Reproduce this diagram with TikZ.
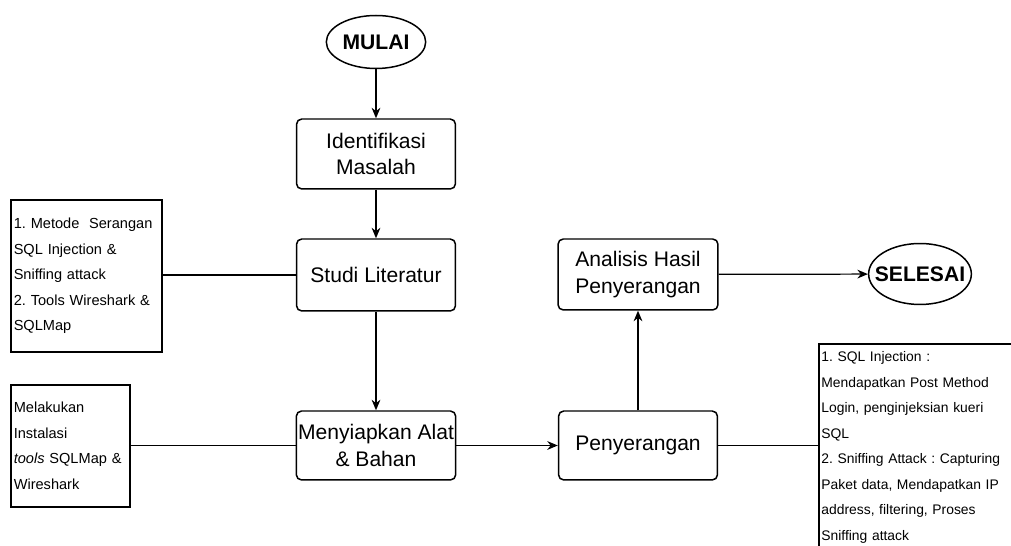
\documentclass[tikz,border=0pt]{standalone}
\usepackage{fontspec}
\setmainfont{Liberation Sans}
\usetikzlibrary{arrows.meta,shapes.geometric,positioning}
\frenchspacing

\begin{document}
\begin{tikzpicture}[x=0.02cm,y=-0.02cm,
  proses/.style={draw,line width=0.85pt,rounded corners=3pt,minimum width=3.18cm,minimum height=1.4cm,align=center,inner sep=1pt,font=\fontsize{12}{15}\selectfont},
  terminal/.style={draw,line width=0.85pt,ellipse,inner ysep=0pt,font=\fontsize{12}{15}\selectfont\bfseries},
  catatan/.style={draw,line width=0.85pt,align=left,inner xsep=1.5pt,inner ysep=0pt,font=\fontsize{7.9}{14.5}\selectfont},
  panah/.style={line width=0.7pt,-{Stealth[length=6pt,width=5pt]}},
  garis/.style={line width=0.7pt}]
\useasboundingbox (0,0) rectangle (1011,546);
\clip (0,0) rectangle (1011,546);
\node[terminal,inner xsep=1pt,minimum height=1.06cm] (mulai) at (376,42) {MULAI};
\node[proses] (ident) at (376,154) {Identifikasi\\Masalah};
\node[proses,minimum height=1.44cm] (studi) at (376,275) {Studi Literatur};
\node[proses,minimum height=1.38cm] (siap) at (376,445.5) {Menyiapkan Alat\\\& Bahan};
\node[proses,minimum height=1.38cm] (serang) at (638,445.5) {Penyerangan};
\node[proses,minimum width=3.2cm,minimum height=1.42cm] (analisis) at (638,274.5) {Analisis Hasil\\Penyerangan};
\node[terminal,inner xsep=-5pt,minimum height=1.22cm] (selesai) at (920,274) {SELESAI};
% keterangan
\node[catatan,font=\fontsize{8.3}{14.5}\selectfont,text width=2.91cm,minimum height=3.04cm] (ket1) at (86.5,276) {1. Metode~ Serangan\\SQL Injection \&\\Sniffing attack\\2. Tools Wireshark \&\\SQLMap};
\node[catatan,font=\fontsize{8.3}{14.5}\selectfont,text width=2.27cm,minimum height=2.44cm] (ket2) at (70.5,446) {Melakukan\\Instalasi\\\textit{tools} SQLMap \&\\Wireshark};
\node[catatan,text width=4.1cm,minimum height=4.14cm,anchor=west] (ket3) at (818,447.5) {1. SQL Injection :\\Mendapatkan Post Method\\Login, penginjeksian kueri\\SQL\\2. Sniffing Attack : Capturing\\Paket data, Mendapatkan IP\\address, filtering, Proses\\Sniffing attack};
% alur
\draw[panah] (mulai) -- (ident);
\draw[panah] (ident) -- (studi);
\draw[panah] (studi) -- (siap);
\draw[panah] (siap) -- (serang);
\draw[panah] (serang) -- (analisis);
\draw[panah] (analisis) -- (selesai);
\draw[garis] (studi.west) -- (studi.west -| ket1.east);
\draw[garis] (siap.west) -- (siap.west -| ket2.east);
\draw[garis] (serang.east) -- (serang.east -| ket3.west);
\end{tikzpicture}
\end{document}
